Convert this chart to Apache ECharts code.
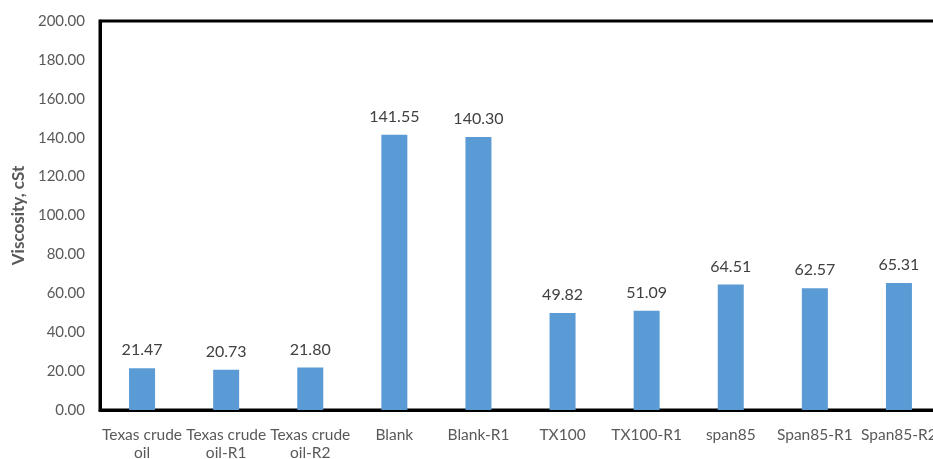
<!DOCTYPE html>
<html>
<head>
<meta charset="utf-8">
<script src="https://cdn.jsdelivr.net/npm/echarts@6/dist/echarts.min.js"></script>
<style>
  html, body { margin: 0; padding: 0; background: #fff; }
  #chart { width: 933px; height: 459px; }
</style>
</head>
<body>
<div id="chart"></div>
<script>
const categories = ['Texas crude\noil', 'Texas crude\noil-R1', 'Texas crude\noil-R2', 'Blank', 'Blank-R1',
  'TX100', 'TX100-R1', 'span85', 'Span85-R1', 'Span85-R2']
const viscosity = [21.47, 20.73, 21.80, 141.55, 140.30, 49.82, 51.09, 64.51, 62.57, 65.31]
const yTicks = { min: 0, max: 200, interval: 20 }

const font = 'Lato, "Open Sans", sans-serif'

echarts.init(document.getElementById('chart')).setOption({
  backgroundColor: '#fff',
  animation: false,
  grid: {
    left: 100, right: -8, top: 21, bottom: 49,
    outerBoundsMode: 'none', containLabel: false,
    show: true, borderColor: '#000', borderWidth: 3
  },
  xAxis: {
    type: 'category',
    data: categories,
    axisLine: { lineStyle: { color: '#000', width: 3 } },
    axisTick: { show: false },
    axisLabel: { interval: 0, color: '#595959', fontSize: 15.5, fontFamily: font, lineHeight: 18, margin: 16, hideOverlap: false }
  },
  yAxis: {
    type: 'value',
    min: yTicks.min,
    max: yTicks.max,
    interval: yTicks.interval,
    name: 'Viscosity, cSt',
    nameLocation: 'middle',
    nameGap: 72,
    nameTextStyle: { color: '#595959', fontSize: 17, fontWeight: 'bold', fontFamily: font },
    axisLine: { show: true, lineStyle: { color: '#000', width: 3 } },
    axisTick: { show: false },
    splitLine: { show: false },
    axisLabel: { color: '#595959', fontSize: 15, fontFamily: font, margin: 15, formatter: v => v.toFixed(2) }
  },
  series: [{
    type: 'bar',
    data: viscosity,
    barWidth: 26,
    itemStyle: { color: '#5B9BD5' },
    label: {
      show: true,
      position: 'top',
      distance: 10,
      color: '#404040',
      fontSize: 16,
      fontFamily: font,
      formatter: p => p.value.toFixed(2)
    }
  }]
})
</script>
</body>
</html>
